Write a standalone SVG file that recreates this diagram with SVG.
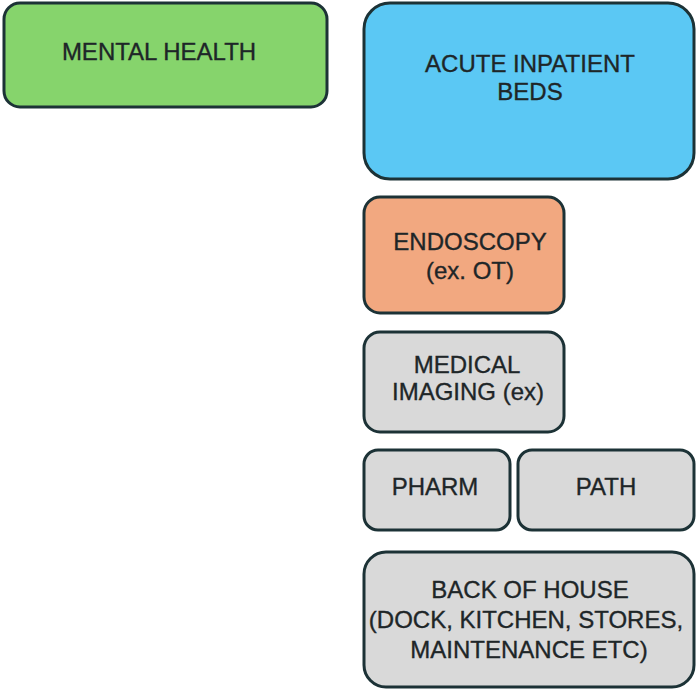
<svg xmlns="http://www.w3.org/2000/svg" width="698" height="690" viewBox="0 0 698 690">
<style>
.box{stroke:#1c3236;stroke-width:3}
.t{font-family:"Liberation Sans",Arial,sans-serif;font-size:24px;fill:#1e2628;stroke:#1e2628;stroke-width:0.35;text-anchor:middle}
</style>
<rect width="698" height="690" fill="#ffffff"/>
<g id="mental-health">
<rect class="box" x="4" y="3" width="323" height="104" rx="16" fill="#86d46c"/>
<text class="t" x="159" y="60">MENTAL HEALTH</text>
</g>
<g id="acute-inpatient-beds">
<rect class="box" x="364" y="3" width="330" height="176" rx="26" fill="#5bc8f4"/>
<text class="t" x="530" y="72">ACUTE INPATIENT</text>
<text class="t" x="530" y="100">BEDS</text>
</g>
<g id="endoscopy">
<rect class="box" x="364" y="197" width="200" height="116" rx="16" fill="#f2a880"/>
<text class="t" x="470" y="250">ENDOSCOPY</text>
<text class="t" x="470" y="279">(ex. OT)</text>
</g>
<g id="medical-imaging">
<rect class="box" x="364" y="332" width="200" height="100" rx="16" fill="#d9d9d9"/>
<text class="t" x="467" y="373">MEDICAL</text>
<text class="t" x="468" y="400">IMAGING (ex)</text>
</g>
<g id="pharm">
<rect class="box" x="364" y="450" width="146" height="80" rx="14" fill="#d9d9d9"/>
<text class="t" x="435" y="495">PHARM</text>
</g>
<g id="path">
<rect class="box" x="518" y="450" width="176" height="80" rx="14" fill="#d9d9d9"/>
<text class="t" x="606" y="495">PATH</text>
</g>
<g id="back-of-house">
<rect class="box" x="364" y="552" width="330" height="135" rx="22" fill="#d9d9d9"/>
<text class="t" x="530" y="598">BACK OF HOUSE</text>
<text class="t" x="526" y="628">(DOCK, KITCHEN, STORES,</text>
<text class="t" x="529" y="658">MAINTENANCE ETC)</text>
</g>
<g id="connectors"></g>
</svg>
